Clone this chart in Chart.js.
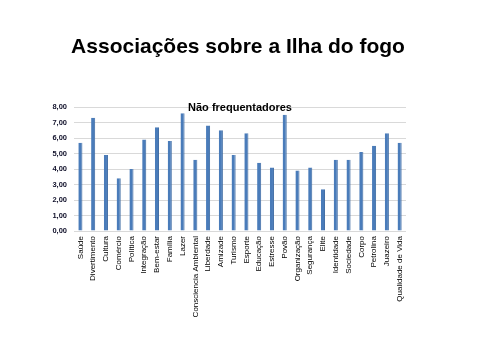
<!DOCTYPE html>
<html>
<head>
<meta charset="utf-8">
<script src="https://cdn.jsdelivr.net/npm/chart.js@4/dist/chart.umd.min.js"></script>
<style>
html,body{margin:0;padding:0;background:#fff;}
#wrap{width:480px;height:360px;position:relative;}
</style>
</head>
<body>
<div id="wrap"><canvas id="c" width="480" height="360"></canvas></div>
<script>
const categories = ["Saúde","Divertimento","Cultura","Comércio","Política","Integração","Bem-estar","Família","Lazer","Consciencia Ambiental","Liberdade","Amizade","Turismo","Esporte","Educação","Estresse","Povão","Organização","Segurança","Elite","Identidade","Sociedade","Corpo","Petrolina","Juazeiro","Qualidade de Vida"];
const values = [5.7,7.3,4.9,3.4,4.0,5.9,6.7,5.8,7.6,4.6,6.8,6.5,4.9,6.3,4.4,4.1,7.5,3.9,4.1,2.7,4.6,4.6,5.1,5.5,6.3,5.7];
const yTicks = [0,1,2,3,4,5,6,7,8];
const mainTitle = "Associações sobre a Ilha do fogo";
const seriesName = "Não frequentadores";

const titlesPlugin = {
  id: 'titles',
  afterDatasetsDraw(chart) {
    const {ctx, chartArea, width} = chart;
    ctx.save();
    ctx.fillStyle = "#000";
    ctx.textAlign = "center";
    ctx.textBaseline = "middle";
    ctx.font = "bold 21px 'Liberation Sans', Arial, sans-serif";
    ctx.fillText(mainTitle, width / 2 - 2, 47);
    ctx.font = "bold 11px 'Liberation Sans', Arial, sans-serif";
    ctx.fillText(seriesName, (chartArea.left + chartArea.right) / 2, chartArea.top + 1);
    ctx.restore();
  }
};

new Chart(document.getElementById('c'), {
  type: 'bar',
  data: {
    labels: categories,
    datasets: [{
      label: seriesName,
      data: values,
      backgroundColor: '#4a7cba',
      borderColor: '#3d6aa3',
      borderWidth: {left:0, right:1, top:0, bottom:0},
      barPercentage: 0.32,
      categoryPercentage: 1.0
    }]
  },
  options: {
    responsive: false,
    animation: false,
    devicePixelRatio: 1,
    layout: { padding: { left: 0, right: 74, top: 107, bottom: 0 } },
    plugins: {
      legend: { display: false },
      tooltip: { enabled: false },
      title: { display: false }
    },
    scales: {
      x: {
        grid: { display: false, drawTicks: false },
        border: { display: false },
        ticks: {
          autoSkip: false,
          maxRotation: 90,
          minRotation: 90,
          padding: 5,
          color: '#000',
          font: { family: "'Liberation Sans', Arial, sans-serif", size: 8 }
        },
        afterFit(scale) { scale.height = 129; }
      },
      y: {
        min: 0,
        max: 8,
        afterBuildTicks(scale) { scale.ticks = yTicks.map(v => ({value: v})); },
        grid: { color: '#d9d9d9', drawTicks: false, lineWidth: 1 },
        border: { display: false },
        ticks: {
          padding: 7,
          color: '#10102a',
          font: { family: "'Liberation Sans', Arial, sans-serif", size: 7.5, weight: 'bold' },
          callback: (v) => Number(v).toFixed(2).replace('.', ',')
        },
        afterFit(scale) { scale.width = 74; }
      }
    }
  },
  plugins: [titlesPlugin]
});
</script>
</body>
</html>
